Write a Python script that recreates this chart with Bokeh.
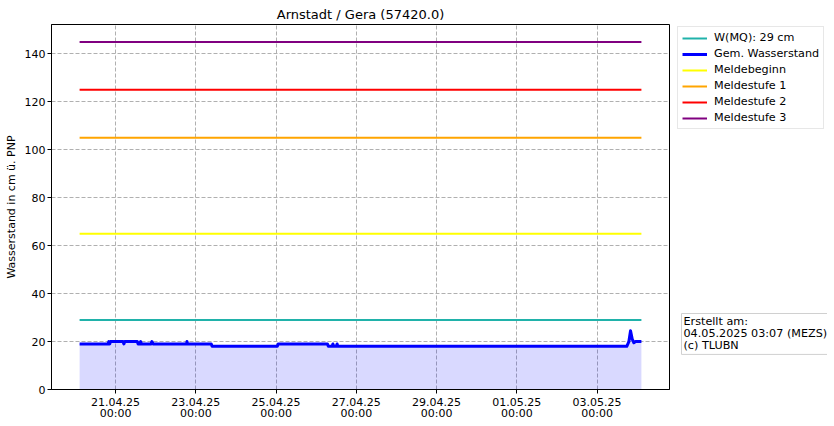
import pandas as pd
from bokeh.plotting import figure
from bokeh.layouts import row
from bokeh.models import (ColumnDataSource, Legend, LegendItem, Label,
                          FixedTicker, SingleIntervalTicker, Range1d)
from bokeh.embed import file_html
from bokeh.resources import INLINE

title_text = "Arnstadt / Gera (57420.0)"
y_label = "Wasserstand in cm ü. PNP"
note_text = "Erstellt am:\n04.05.2025 03:07 (MEZS)\n(c) TLUBN"

# Gemessener Wasserstand (cm)
level_times = [
    "2025-04-20 02:30", "2025-04-20 19:30", "2025-04-20 20:00", "2025-04-20 20:30",
    "2025-04-20 21:00", "2025-04-21 04:30", "2025-04-21 05:00", "2025-04-21 05:30",
    "2025-04-21 13:00", "2025-04-21 13:30", "2025-04-21 14:30", "2025-04-21 15:00",
    "2025-04-21 15:30", "2025-04-21 21:15", "2025-04-21 21:45", "2025-04-21 22:30",
    "2025-04-22 18:30", "2025-04-22 18:45", "2025-04-22 19:00", "2025-04-23 09:15",
    "2025-04-23 09:45", "2025-04-25 00:45", "2025-04-25 01:15", "2025-04-26 06:45",
    "2025-04-26 07:15", "2025-04-26 09:30", "2025-04-26 10:00", "2025-04-26 10:30",
    "2025-04-26 12:00", "2025-04-26 12:30", "2025-04-26 13:00", "2025-05-03 17:45",
    "2025-05-03 19:00", "2025-05-03 20:00", "2025-05-03 21:00", "2025-05-03 22:00",
    "2025-05-03 23:00", "2025-05-04 02:30",
]
level_values = [
    19, 19, 20, 19,
    20, 20, 19, 20,
    20, 19, 19, 20,
    19, 19, 20, 19,
    19, 20, 19, 19,
    18, 18, 19, 19,
    18, 18, 19, 18,
    18, 19, 18, 18,
    20, 24.5, 21, 19.5,
    20, 20,
]

ref_names = ["W(MQ): 29 cm", "Meldebeginn", "Meldestufe 1", "Meldestufe 2", "Meldestufe 3"]
ref_values = [29, 65, 105, 125, 145]
ref_colors = ["#20b2aa", "#ffff00", "#ffa500", "#ff0000", "#800080"]
level_name = "Gem. Wasserstand"

tick_dates = ["2025-04-21", "2025-04-23", "2025-04-25", "2025-04-27",
              "2025-04-29", "2025-05-01", "2025-05-03"]
tick_labels = ["21.04.25\n00:00", "23.04.25\n00:00", "25.04.25\n00:00", "27.04.25\n00:00",
               "29.04.25\n00:00", "01.05.25\n00:00", "03.05.25\n00:00"]

FONT = "DejaVu Sans"

t = pd.to_datetime(level_times)
src = ColumnDataSource(dict(t=t, v=level_values, zero=[0] * len(level_values)))

t0, t1 = t[0], t[-1]
pad = (t1 - t0) * 0.05

TOP, BOTTOM = 24, 29
p = figure(frame_width=618, frame_height=365, output_backend="svg", toolbar_location=None,
           x_axis_type="datetime",
           x_range=Range1d(t0 - pad, t1 + pad), y_range=Range1d(0, 152.25),
           min_border_left=51, min_border_right=2, min_border_top=TOP, min_border_bottom=BOTTOM)

p.title.text = title_text
p.title.align = "center"
p.title.text_font = FONT
p.title.text_font_size = "13px"
p.title.text_font_style = "normal"
p.title.text_color = "black"
p.title.standoff = 5

p.background_fill_color = "white"
p.border_fill_color = "white"
p.outline_line_color = "black"
p.outline_line_width = 1

p.varea(x="t", y1="zero", y2="v", source=src, fill_color="blue", fill_alpha=0.15)

for name, val, col in zip(ref_names, ref_values, ref_colors):
    p.line(x=[t0, t1], y=[val, val], line_color=col, line_width=2)
p.line(x="t", y="v", source=src, line_color="blue", line_width=3, line_join="round")

tick_ms = [int(x) // 10**6 for x in pd.to_datetime(tick_dates).astype("int64")]
p.xaxis.ticker = FixedTicker(ticks=tick_ms)
p.xaxis.major_label_overrides = {k: lab for k, lab in zip(tick_ms, tick_labels)}
p.yaxis.ticker = SingleIntervalTicker(interval=20)
p.yaxis.axis_label = y_label

for ax in (p.xaxis, p.yaxis):
    ax.major_label_text_font = FONT
    ax.major_label_text_font_size = "11px"
    ax.major_label_text_color = "black"
    ax.axis_label_text_font = FONT
    ax.axis_label_text_font_size = "11px"
    ax.axis_label_text_font_style = "normal"
    ax.axis_label_text_color = "black"
    ax.axis_line_color = "black"
    ax.major_tick_line_color = "black"
    ax.major_tick_out = 4
    ax.major_tick_in = 0
    ax.minor_tick_line_color = None
    ax.major_label_standoff = 2
p.xaxis.major_label_text_line_height = 0.92
p.yaxis.axis_label_standoff = 4

p.xgrid.ticker = FixedTicker(ticks=tick_ms)
for g in (p.xgrid, p.ygrid):
    g.grid_line_color = "#b0b0b0"
    g.grid_line_dash = "4 2"
    g.grid_line_width = 1

# side panel with legend and note (its frame is aligned with the main frame)
SIDE_W, SIDE_H = 156, TOP + 365 + BOTTOM
S_LEFT = 4
sw, sh = SIDE_W - S_LEFT, 365
p2 = figure(width=SIDE_W, height=SIDE_H, output_backend="svg", toolbar_location=None,
            x_range=Range1d(0, sw), y_range=Range1d(sh, 0),
            min_border_left=S_LEFT, min_border_top=TOP, min_border_right=0,
            min_border_bottom=BOTTOM)
p2.axis.visible = False
p2.grid.visible = False
p2.outline_line_color = None
p2.background_fill_color = "white"
p2.border_fill_color = "white"

leg_names = [ref_names[0], level_name] + ref_names[1:]
leg_colors = [ref_colors[0], "blue"] + ref_colors[1:]
leg_widths = [2, 3, 2, 2, 2, 2]
items = []
for n, c, w in zip(leg_names, leg_colors, leg_widths):
    # legend-only proxy line, placed outside the visible range
    r = p2.line(x=[-50, -40], y=[-50, -50], line_color=c, line_width=w)
    items.append(LegendItem(label=n, renderers=[r]))
legend = Legend(items=items, location="top_left")
legend.label_text_font = FONT
legend.label_text_font_size = "11.2px"
legend.label_text_color = "black"
legend.glyph_width = 25
legend.glyph_height = 12
legend.label_height = 12
legend.spacing = 3
legend.padding = 4
legend.margin = 2
legend.label_standoff = 7
legend.border_line_color = "#d0d0d0"
legend.border_line_width = 1
legend.background_fill_color = "white"
p2.add_layout(legend, "center")

note = Label(x=6, y=293, text=note_text, text_font=FONT, text_font_size="11.2px",
             text_color="black", text_align="left", text_baseline="top",
             text_line_height=0.92,
             border_line_color="#d0d0d0", background_fill_color="white", padding=2)
p2.add_layout(note)

open("out.html", "w").write(file_html(row(p, p2), INLINE))
